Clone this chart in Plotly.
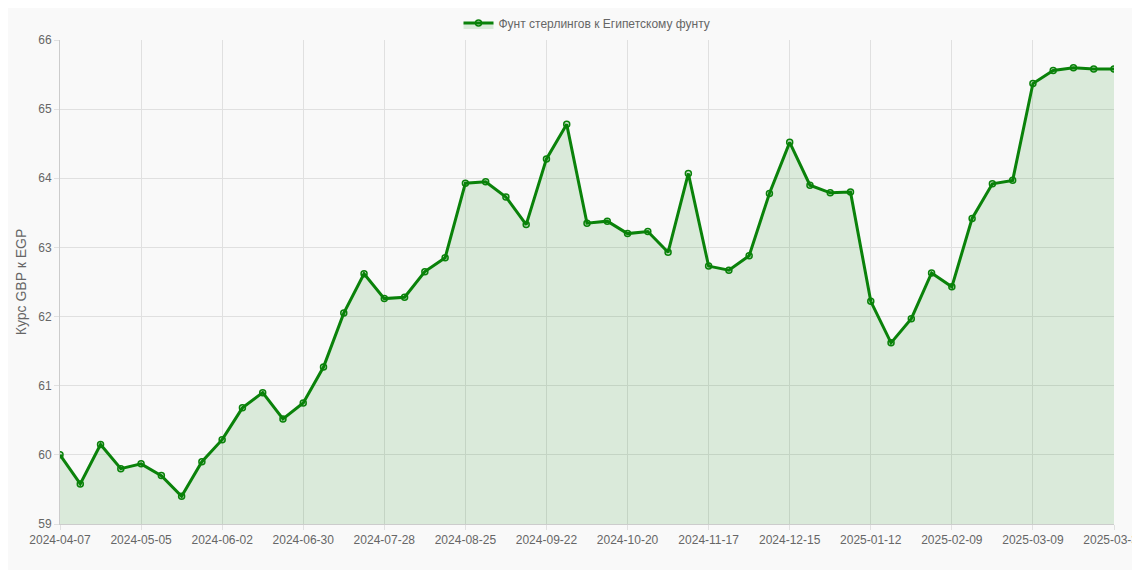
import plotly.graph_objects as go
import datetime as dt

start = dt.date(2024, 4, 7)
dates = [(start + dt.timedelta(weeks=i)).isoformat() for i in range(52)] + ["2025-03-31"]
values = [60.0, 59.58, 60.15, 59.8, 59.87, 59.7, 59.4, 59.9, 60.22, 60.68,
          60.9, 60.52, 60.75, 61.27, 62.05, 62.62, 62.26, 62.28, 62.65, 62.85,
          63.93, 63.95, 63.73, 63.33, 64.28, 64.78, 63.35, 63.38, 63.2, 63.23,
          62.93, 64.07, 62.73, 62.67, 62.88, 63.78, 64.52, 63.9, 63.79, 63.8,
          62.22, 61.62, 61.97, 62.63, 62.43, 63.42, 63.92, 63.97, 65.37, 65.56,
          65.6, 65.58, 65.58]
tick_labels = [d for i, d in enumerate(dates) if i % 4 == 0 or i == len(dates) - 1]

fig = go.Figure(go.Scatter(
    x=dates, y=values, mode="lines+markers",
    name="Фунт стерлингов к Египетскому фунту",
    line=dict(color="#0a820a", width=3),
    marker=dict(size=6, color="rgba(0,128,0,0.15)", line=dict(color="#0a820a", width=1.5)),
    fill="tozeroy", fillcolor="rgba(0,128,0,0.12)",
))
fig.update_layout(
    width=1140, height=570,
    paper_bgcolor="#f9f9f9", plot_bgcolor="#f9f9f9",
    margin=dict(l=52, r=34, t=32, b=54, autoexpand=False),
    font=dict(family="Liberation Sans, Arial", size=12, color="#666"),
    showlegend=True,
    legend=dict(orientation="h", x=0.5, xanchor="center", y=1.005, yanchor="bottom",
                font=dict(size=12, color="#666"), bgcolor="rgba(0,0,0,0)"),
)
fig.update_xaxes(type="category", tickmode="array", tickvals=tick_labels, ticktext=tick_labels,
                 showgrid=True, gridcolor="#e0e0e0", linecolor="#ccc", showline=True, automargin=False,
                 ticks="outside", tickcolor="#e0e0e0", ticklen=5, range=[0, len(dates) - 1])
fig.update_yaxes(range=[59, 66], dtick=1, showgrid=True, gridcolor="#e0e0e0", automargin=False,
                 showline=True, linecolor="#ccc", ticks="outside", tickcolor="#e0e0e0", ticklen=5,
                 title=dict(text="Курс GBP к EGP", font=dict(size=14, color="#666"), standoff=8),
                 zeroline=False)
fig.write_html("out.html")
